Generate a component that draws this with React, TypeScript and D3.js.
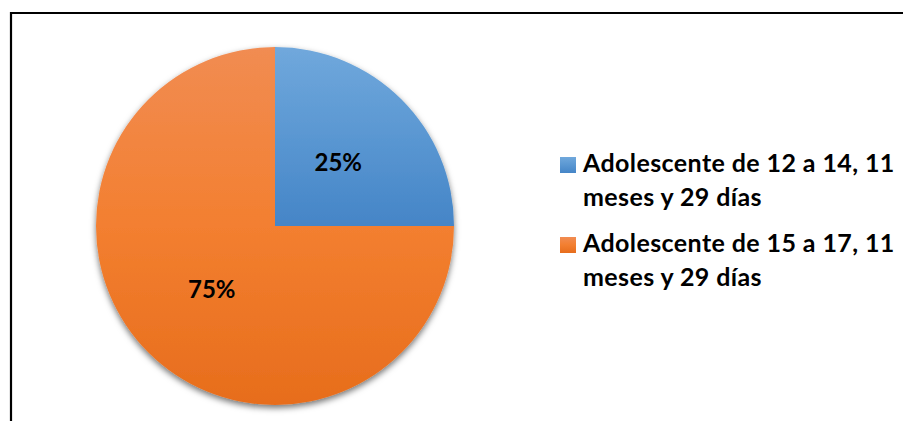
import React from "react";
import * as d3 from "d3";

const categories = [
  "Adolescente de 12 a 14, 11 meses y 29 días",
  "Adolescente de 15 a 17, 11 meses y 29 días",
];
const categoryLines = [
  ["Adolescente de 12 a 14, 11", "meses y 29 días"],
  ["Adolescente de 15 a 17, 11", "meses y 29 días"],
];
const values = [25, 75];
const percentLabels = ["25%", "75%"];

const W = 903;
const H = 421;
const FONT = "Lato, 'Open Sans', sans-serif";

const gradients = [
  { id: "gBlue", stops: ["#70a8dc", "#5a97d2", "#4585c7"] },
  { id: "gOrange", stops: ["#f18c52", "#f37f30", "#e76d1c"] },
];

export default function App() {
  const cx = 275;
  const cy = 226;
  const r = 179;

  const pie = d3
    .pie<number>()
    .sort(null)
    .value((d) => d);
  const arcs = pie(values);
  const arc = d3.arc<d3.PieArcDatum<number>>().innerRadius(0).outerRadius(r);
  const labelArc = d3
    .arc<d3.PieArcDatum<number>>()
    .innerRadius(r / 2)
    .outerRadius(r / 2);

  const legendX = 560;
  const legendY = d3.scaleBand<number>().domain(d3.range(categories.length)).range([157, 317]);

  return (
    <svg
      width={W}
      height={H}
      style={{ position: "absolute", left: 0, top: 0, background: "#fff" }}
    >
      <defs>
        {gradients.map((g) => (
          <linearGradient key={g.id} id={g.id} x1="0" y1="0" x2="0" y2="1">
            {g.stops.map((c, k) => (
              <stop key={k} offset={`${(k / (g.stops.length - 1)) * 100}%`} stopColor={c} />
            ))}
          </linearGradient>
        ))}
        <filter id="shadow" x="-20%" y="-20%" width="140%" height="150%">
          <feDropShadow dx="0" dy="3" stdDeviation="3" floodColor="#000" floodOpacity="0.55" />
        </filter>
      </defs>
      <rect x={0} y={0} width={W} height={H} fill="#fff" />
      <path
        d={`M11,${H + 5} L11,13 L${W + 5},13`}
        fill="none"
        stroke="#000"
        strokeWidth={2.2}
      />
      <g transform={`translate(${cx},${cy})`}>
        <g filter="url(#shadow)">
          {arcs.map((a, i) => (
            <path key={i} d={arc(a) || ""} fill={`url(#${gradients[i].id})`} />
          ))}
        </g>
        {arcs.map((a, i) => {
          const [lx, ly] = labelArc.centroid(a);
          return (
            <text
              key={i}
              x={lx}
              y={ly}
              dy="0.35em"
              textAnchor="middle"
              fontFamily={FONT}
              fontWeight="bold"
              fontSize={24}
              fill="#000"
            >
              {percentLabels[i]}
            </text>
          );
        })}
      </g>
      {categoryLines.map((lines, i) => {
        const y0 = legendY(i) as number;
        return (
          <g key={i}>
            <rect x={legendX} y={y0} width={16} height={16} fill={`url(#${gradients[i].id})`} />
            {lines.map((ln, j) => (
              <text
                key={j}
                x={583}
                y={y0 + 15 + j * 34}
                fontFamily={FONT}
                fontWeight="bold"
                fontSize={25}
                letterSpacing={0.4}
                fill="#000"
              >
                {ln}
              </text>
            ))}
          </g>
        );
      })}
    </svg>
  );
}
